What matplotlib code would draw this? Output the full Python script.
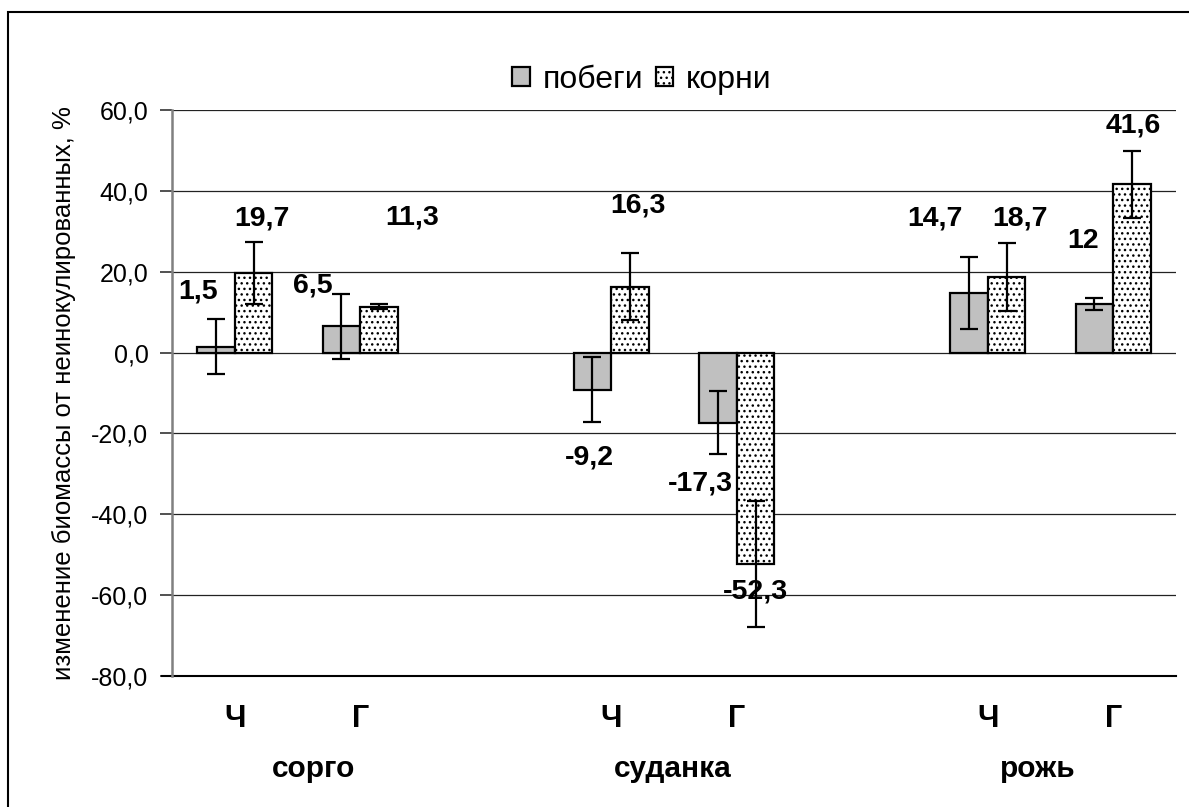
import matplotlib
matplotlib.use("Agg")
import matplotlib.pyplot as plt
import matplotlib.patches as mpatches
from matplotlib.transforms import blended_transform_factory
import numpy as np

plt.rcParams['font.family'] = ['Liberation Sans', 'DejaVu Sans']
plt.rcParams['hatch.linewidth'] = 1.0

# ---- data ----
slots = ["Ч", "Г", "", "Ч", "Г", "", "Ч", "Г"]
groups = ["сорго", "суданка", "рожь"]
shoots = [1.5, 6.5, np.nan, -9.2, -17.3, np.nan, 14.7, 12.0]
roots = [19.7, 11.3, np.nan, 16.3, -52.3, np.nan, 18.7, 41.6]
shoots_err = [6.8, 8.0, 0, 8.0, 7.8, 0, 8.9, 1.4]
roots_err = [7.7, 0.6, 0, 8.3, 15.7, 0, 8.5, 8.3]
series_names = ["побеги", "корни"]
yticks = [-80, -60, -40, -20, 0, 20, 40, 60]

# value labels: text, x (slot units), y (data units)
label_texts = ["1,5", "19,7", "6,5", "11,3", "16,3", "-9,2", "-17,3", "-52,3",
               "14,7", "18,7", "12", "41,6"]
label_x = [-0.29, 0.22, 0.62, 1.41, 3.21, 2.83, 3.71, 4.15, 5.58, 6.26, 6.76, 7.16]
label_y = [15.1, 33.1, 16.6, 33.4, 36.4, -26.0, -32.4, -59.1, 33.1, 33.1, 27.5, 56.1]
group_x = [0.63, 3.49, 6.40]

W, H = 1189, 807
fig = plt.figure(figsize=(W / 100, H / 100), dpi=100)
ax = fig.add_axes([172 / W, 131 / H, 1004 / W, 566 / H])

# outer frame (top and left visible)
fig.patches.append(mpatches.Rectangle((8 / W, -0.1), 1.2, (H - 12) / H + 0.1,
                                      transform=fig.transFigure, fill=False,
                                      edgecolor='black', linewidth=1.5))

x = np.arange(len(slots))
bw = 0.3
idx = [i for i in range(len(slots)) if not np.isnan(shoots[i])]
xs = x[idx]
sh = np.array(shoots)[idx]
rt = np.array(roots)[idx]
she = np.array(shoots_err)[idx]
rte = np.array(roots_err)[idx]

ax.bar(xs - bw / 2, sh, bw, color='#c0c0c0', edgecolor='black', linewidth=1.6,
       label=series_names[0], zorder=3)
ax.bar(xs + bw / 2, rt, bw, color='white', edgecolor='black', linewidth=1.6,
       hatch='...', label=series_names[1], zorder=3)
ax.errorbar(xs - bw / 2, sh, yerr=she, fmt='none', ecolor='black', elinewidth=1.6,
            capsize=6.5, capthick=1.6, zorder=4)
ax.errorbar(xs + bw / 2, rt, yerr=rte, fmt='none', ecolor='black', elinewidth=1.6,
            capsize=6.5, capthick=1.6, zorder=4)

ax.set_xlim(-0.5, len(slots) - 0.5)
ax.set_ylim(-80, 60)
ax.set_yticks(yticks)
ax.set_yticklabels([f"{v:.1f}".replace('.', ',') for v in yticks], fontsize=18)
ax.yaxis.grid(True, color='#222222', linewidth=0.9, zorder=0)
ax.set_axisbelow(True)
ax.set_xticks([])
ax.tick_params(axis='y', length=9, width=1.2, color='#333333', pad=8)
for s in ['top', 'right', 'bottom']:
    ax.spines[s].set_visible(False)
ax.spines['left'].set_color('#808080')
ax.spines['left'].set_linewidth(1.8)
ax.axhline(-80, xmin=-0.01, color='black', linewidth=1.5, clip_on=False)

ax.set_ylabel("изменение биомассы от неинокулированных, %", fontsize=18.5, labelpad=11)

for t, lx, ly in zip(label_texts, label_x, label_y):
    ax.text(lx, ly, t, fontsize=20.5, fontweight='bold', ha='center', va='center', zorder=5)

trans = blended_transform_factory(ax.transData, ax.transAxes)
for i, s in enumerate(slots):
    if s:
        ax.text(x[i], -0.076, s, transform=trans, fontsize=22, fontweight='bold',
                ha='center', va='center')
for g, gx in zip(groups, group_x):
    ax.text(gx, -0.165, g, transform=trans, fontsize=21.5, fontweight='bold',
            ha='center', va='center')

leg = ax.legend(loc='center', bbox_to_anchor=(0.468, 1.053), ncol=2, frameon=False,
                fontsize=23, handlelength=0.55, handleheight=0.55, handletextpad=0.4,
                columnspacing=0.4)

fig.savefig("out.png", dpi=100)
